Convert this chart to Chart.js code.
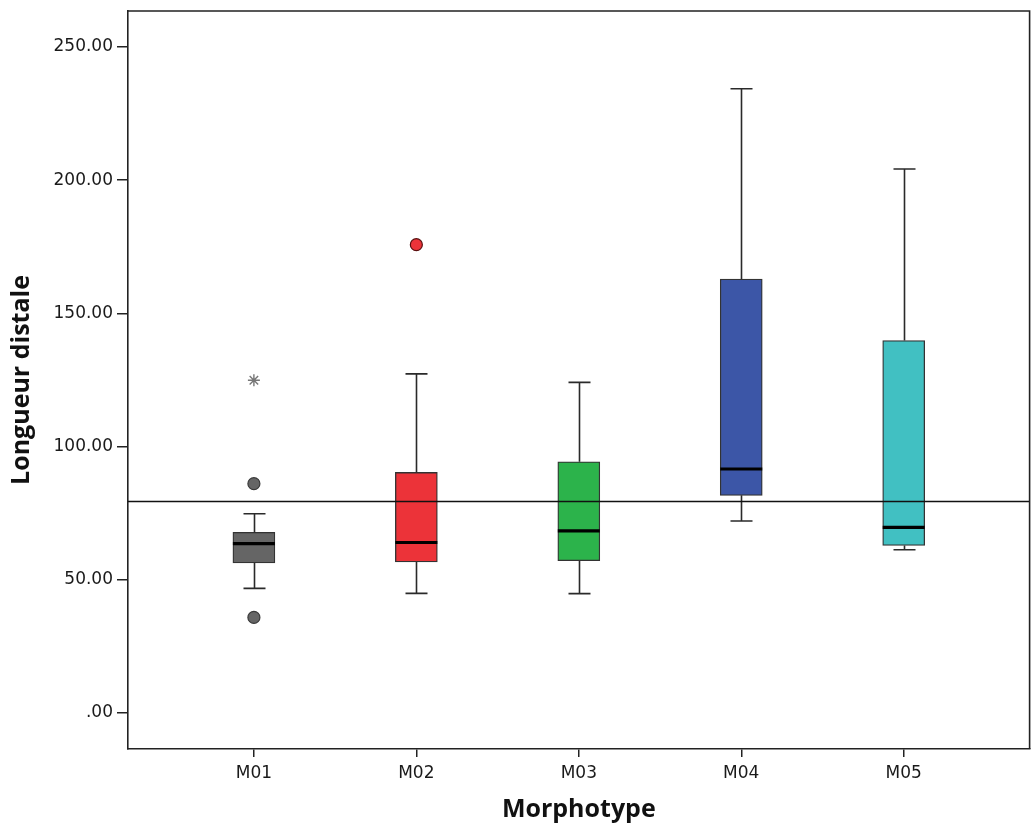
<!DOCTYPE html>
<html>
<head>
<meta charset="utf-8">
<script src="https://cdn.jsdelivr.net/npm/chart.js@4.4.1/dist/chart.umd.min.js"></script>
<style>
  html, body { margin: 0; padding: 0; background: #ffffff; overflow: hidden; }
  #wrap { width: 1031px; height: 825px; overflow: hidden; }
  canvas { display: block; }
</style>
</head>
<body>
<div id="wrap"><canvas id="c" width="1037" height="825"></canvas></div>
<script>
// ---- data ----
const categories   = ['M01', 'M02', 'M03', 'M04', 'M05'];
const whiskerLow   = [46.8, 44.9, 44.8, 72.1, 61.3];
const q1           = [56.3, 56.7, 57.2, 81.7, 62.9];
const median       = [63.6, 64.0, 68.4, 91.6, 69.7];
const q3           = [67.8, 90.3, 94.3, 162.9, 139.8];
const whiskerHigh  = [74.8, 127.3, 124.1, 234.3, 204.2];
const outlierCat   = [0, 0, 1];
const outlierVal   = [86.1, 35.9, 175.8];
const extremeCat   = [0];
const extremeVal   = [124.9];
const referenceValue = 79.7;
const yTickValues  = [0, 50, 100, 150, 200, 250];
const boxColors    = ['#656565', '#ec3339', '#2cb34b', '#3c56a7', '#41c0c2'];

const boxData = categories.map((c, i) => ({ x: i, y: [q1[i], q3[i]] }));
const outlierData = outlierCat.map((c, i) => ({ x: c, y: outlierVal[i] }));
const extremeData = extremeCat.map((c, i) => ({ x: c, y: extremeVal[i] }));

const boxPlugin = {
  id: 'boxparts',
  afterDatasetsDraw(chart) {
    const ctx = chart.ctx;
    const xs = chart.scales.x, ys = chart.scales.y;
    const area = chart.chartArea;
    ctx.save();
    // whiskers and caps
    ctx.strokeStyle = '#2a2a2a';
    ctx.lineWidth = 1.6;
    categories.forEach((c, i) => {
      const cx = Math.round(xs.getPixelForValue(i)) + 0.5;
      const capHalf = 11;
      const yLo = ys.getPixelForValue(whiskerLow[i]);
      const yQ1 = ys.getPixelForValue(q1[i]);
      const yQ3 = ys.getPixelForValue(q3[i]);
      const yHi = ys.getPixelForValue(whiskerHigh[i]);
      ctx.beginPath();
      ctx.moveTo(cx, yQ3); ctx.lineTo(cx, yHi);
      ctx.moveTo(cx - capHalf, yHi); ctx.lineTo(cx + capHalf, yHi);
      ctx.moveTo(cx, yQ1); ctx.lineTo(cx, yLo);
      ctx.moveTo(cx - capHalf, yLo); ctx.lineTo(cx + capHalf, yLo);
      ctx.stroke();
    });
    // medians
    ctx.strokeStyle = '#000000';
    ctx.lineWidth = 3.2;
    categories.forEach((c, i) => {
      const cx = xs.getPixelForValue(i);
      const ym = ys.getPixelForValue(median[i]);
      ctx.beginPath();
      ctx.moveTo(cx - 21, ym); ctx.lineTo(cx + 21, ym);
      ctx.stroke();
    });
    // reference line
    const yr = Math.round(ys.getPixelForValue(referenceValue)) + 0.5;
    ctx.strokeStyle = '#111111';
    ctx.lineWidth = 1.5;
    ctx.beginPath();
    ctx.moveTo(area.left, yr); ctx.lineTo(area.right, yr);
    ctx.stroke();
    // top and right frame
    ctx.strokeStyle = '#222222';
    ctx.lineWidth = 1.6;
    ctx.beginPath();
    ctx.moveTo(area.left, area.top); ctx.lineTo(area.right, area.top); ctx.lineTo(area.right, area.bottom);
    ctx.stroke();
    ctx.restore();
  }
};

new Chart(document.getElementById('c'), {
  type: 'bar',
  data: {
    datasets: [
      {
        type: 'scatter',
        label: 'outliers',
        data: outlierData,
        pointStyle: 'circle',
        pointRadius: 6,
        pointBackgroundColor: outlierCat.map(c => boxColors[c]),
        pointBorderColor: outlierCat.map(c => c === 1 ? '#5a1010' : '#3a3a3a'),
        pointBorderWidth: 1.2,
        order: 0
      },
      {
        type: 'scatter',
        label: 'extremes',
        data: extremeData,
        pointStyle: 'star',
        pointRadius: 6,
        pointBorderColor: '#777777',
        pointBackgroundColor: '#777777',
        pointBorderWidth: 1.4,
        order: 0
      },
      {
        type: 'bar',
        label: 'boxes',
        data: boxData,
        backgroundColor: boxColors,
        borderColor: '#333333',
        borderWidth: 1.3,
        borderSkipped: false,
        barThickness: 42,
        order: 2
      }
    ]
  },
  options: {
    responsive: false,
    animation: false,
    layout: { padding: { left: 0, top: 11, right: 0, bottom: 0 } },
    plugins: { legend: { display: false }, tooltip: { enabled: false } },
    scales: {
      x: {
        type: 'linear',
        offset: false,
        min: -0.775,
        max: 4.775,
        afterBuildTicks: (s) => { s.ticks = categories.map((c, i) => ({ value: i })); },
        afterFit: (s) => { s.height = 76; s.paddingLeft = 0; s.paddingRight = 0; },
        ticks: {
          autoSkip: false,
          maxRotation: 0,
          padding: 6,
          color: '#1a1a1a',
          font: { family: 'DejaVu Sans', size: 17 },
          callback: (v) => categories[v]
        },
        grid: { display: true, offset: false, drawOnChartArea: false, drawTicks: true, tickLength: 8, color: '#222222', lineWidth: 1.5 },
        border: { display: true, color: '#222222', width: 1.6 },
        title: {
          display: true,
          text: 'Morphotype',
          color: '#111111',
          font: { family: 'Open Sans', size: 25, weight: 'bold' },
          padding: { top: 2, bottom: 0 }
        }
      },
      y: {
        type: 'linear',
        min: -13.5,
        max: 263.5,
        afterBuildTicks: (s) => { s.ticks = yTickValues.map(v => ({ value: v })); },
        afterFit: (s) => { s.width = 128; s.paddingTop = 0; s.paddingBottom = 0; },
        ticks: {
          padding: 4,
          color: '#1a1a1a',
          font: { family: 'DejaVu Sans', size: 17 },
          callback: (v) => v === 0 ? '.00' : Number(v).toFixed(2)
        },
        grid: { display: true, drawOnChartArea: false, drawTicks: true, tickLength: 11, color: '#222222', lineWidth: 1.5 },
        border: { display: true, color: '#222222', width: 1.6 },
        title: {
          display: true,
          text: 'Longueur distale',
          color: '#111111',
          font: { family: 'Open Sans', size: 25, weight: 'bold' },
          padding: { top: 7, bottom: 0 }
        }
      }
    }
  },
  plugins: [boxPlugin]
});
</script>
</body>
</html>
